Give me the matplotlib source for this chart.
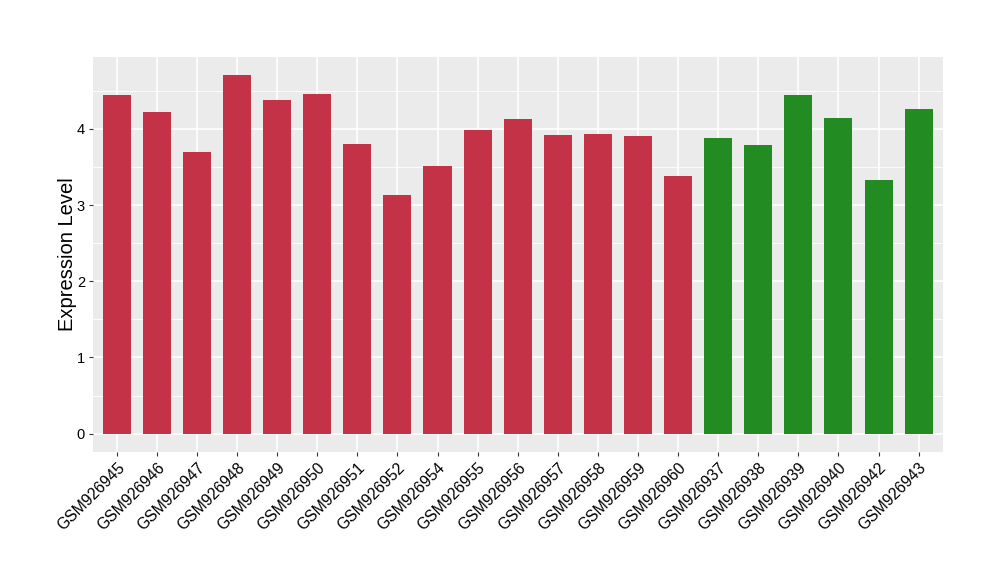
import matplotlib.pyplot as plt
import numpy as np

samples = ['GSM926945', 'GSM926946', 'GSM926947', 'GSM926948', 'GSM926949',
           'GSM926950', 'GSM926951', 'GSM926952', 'GSM926954', 'GSM926955',
           'GSM926956', 'GSM926957', 'GSM926958', 'GSM926959', 'GSM926960',
           'GSM926937', 'GSM926938', 'GSM926939', 'GSM926940', 'GSM926942',
           'GSM926943']
expression = [4.44, 4.22, 3.70, 4.71, 4.38, 4.46, 3.80, 3.13, 3.51, 3.99,
              4.13, 3.92, 3.93, 3.91, 3.38,
              3.88, 3.79, 4.44, 4.14, 3.33, 4.26]
groups = ['a'] * 15 + ['b'] * 6
group_colors = {'a': '#C43248', 'b': '#228B22'}

plt.rcParams['font.family'] = ['Liberation Sans', 'DejaVu Sans']

fig = plt.figure(figsize=(10, 5.8), dpi=100)
ax = fig.add_axes([0.0927, 0.2212, 0.85, 0.681])
ax.set_facecolor('#EBEBEB')

x = np.arange(len(samples))
ax.bar(x, expression, width=0.7, color=[group_colors[g] for g in groups], zorder=3)

ax.set_xlim(-0.6, len(samples) - 0.4)
ax.set_ylim(-0.236, 4.946)
ax.set_xticks(x)
ax.set_xticklabels(samples, rotation=45, ha='right', rotation_mode='anchor', fontsize=11.3)
ax.set_yticks([0, 1, 2, 3, 4])
ax.set_yticks([0.5, 1.5, 2.5, 3.5, 4.5], minor=True)
ax.tick_params(axis='y', labelsize=10.5, length=3, color='#333333', which='major', pad=2.5)
ax.tick_params(axis='x', length=3, color='#333333', pad=3)
ax.tick_params(axis='y', which='minor', length=0)

ax.grid(True, which='major', color='white', linewidth=1.2, zorder=0)
ax.grid(True, which='minor', axis='y', color='white', linewidth=0.6, zorder=0)
ax.set_axisbelow(True)
for s in ax.spines.values():
    s.set_visible(False)

ax.set_ylabel('Expression Level', fontsize=14.5, labelpad=0)

fig.savefig('out.png', dpi=100)
